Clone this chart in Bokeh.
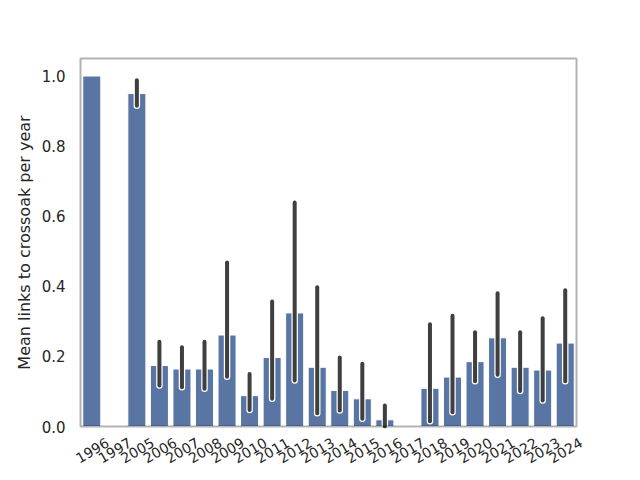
import math
from bokeh.plotting import figure
from bokeh.models import (Range1d, ColumnDataSource, PrintfTickFormatter, FixedTicker,
                          LinearAxis, BoxAnnotation)
from bokeh.embed import file_html
from bokeh.resources import INLINE

years = ["1996", "1997", "2005", "2006", "2007", "2008", "2009", "2010", "2011", "2012",
         "2013", "2014", "2015", "2016", "2017", "2018", "2019", "2020", "2021", "2022",
         "2023", "2024"]
mean_links = [1.0, 0.0, 0.95, 0.174, 0.164, 0.164, 0.261, 0.088, 0.197, 0.324,
              0.169, 0.103, 0.079, 0.019, 0.0, 0.109, 0.141, 0.185, 0.253, 0.169,
              0.161, 0.238]
ci_low = [None, None, 0.915, 0.117, 0.112, 0.108, 0.142, 0.047, 0.079, 0.131,
          0.038, 0.046, 0.022, 0.0, None, 0.015, 0.041, 0.129, 0.148, 0.101,
          0.074, 0.129]
ci_high = [None, None, 0.988, 0.242, 0.226, 0.242, 0.468, 0.150, 0.357, 0.639,
           0.397, 0.197, 0.179, 0.060, None, 0.292, 0.316, 0.269, 0.380, 0.269,
           0.309, 0.389]
y_ticks = [0.0, 0.2, 0.4, 0.6, 0.8, 1.0]

n = len(years)
bar_idx = [i for i, v in enumerate(mean_links) if v > 0]
bar_src = ColumnDataSource(dict(x=bar_idx, mean=[mean_links[i] for i in bar_idx]))
err_idx = [i for i in range(n) if ci_low[i] is not None]
err_src = ColumnDataSource(dict(x=err_idx,
                                lo=[ci_low[i] for i in err_idx],
                                hi=[ci_high[i] for i in err_idx]))

# layout geometry: axes box spans x 80..576 and y 58..426 px; the plotting
# frame is a little larger so the rotated year labels and the box edges fit
W, H = 640, 480
BOX_L, BOX_R, BOX_T, BOX_B = 80, 576, 58, 426
PAD_X, PAD_Y = 24, 2
Y_TOP = 1.05
unit_x = (BOX_R - BOX_L) / n
unit_y = (BOX_B - BOX_T) / Y_TOP
x_start = -0.5 - PAD_X / unit_x
x_end = n - 0.5 + PAD_X / unit_x
y_start = -PAD_Y / unit_y
y_end = Y_TOP + PAD_Y / unit_y

p = figure(width=W, height=H, x_range=Range1d(x_start, x_end),
           y_range=Range1d(y_start, y_end),
           output_backend="svg", toolbar_location=None, x_axis_location=None,
           min_border_left=BOX_L - PAD_X, min_border_right=W - BOX_R - PAD_X,
           min_border_top=BOX_T - PAD_Y, min_border_bottom=H - BOX_B - PAD_Y)

p.vbar(x="x", top="mean", width=0.8, source=bar_src, fill_color="#5875a4",
       line_color="white", line_width=1)

p.segment(x0="x", y0="lo", x1="x", y1="hi", source=err_src, line_color="white",
          line_width=6.5, line_cap="round")
p.segment(x0="x", y0="lo", x1="x", y1="hi", source=err_src, line_color="#3f3f3f",
          line_width=4, line_cap="round")

p.add_layout(BoxAnnotation(left=-0.5, right=n - 0.5, bottom=0, top=Y_TOP,
                           fill_color=None, line_color="black", line_width=2))

p.xgrid.visible = False
p.ygrid.visible = False
p.outline_line_color = None
p.background_fill_color = "white"
p.border_fill_color = "white"

# rotated year labels, centred under each bar like matplotlib's rotation=30
shift = 0.71
p.extra_x_ranges = {"lab": Range1d(x_start - shift, x_end - shift)}
xlab = LinearAxis(x_range_name="lab",
                  ticker=FixedTicker(ticks=list(range(n))),
                  major_label_overrides={i: y for i, y in enumerate(years)})
xlab.axis_line_color = None
xlab.major_tick_line_color = None
xlab.minor_tick_line_color = None
xlab.major_tick_out = 0
xlab.major_tick_in = 0
xlab.major_label_orientation = math.radians(30)
xlab.major_label_standoff = 13
xlab.major_label_text_font = "DejaVu Sans"
xlab.major_label_text_font_size = "14px"
xlab.major_label_text_color = "#262626"
p.add_layout(xlab, "below")

ax = p.yaxis[0]
ax.axis_line_color = None
ax.major_tick_line_color = None
ax.minor_tick_line_color = None
ax.major_tick_out = 0
ax.major_tick_in = 0
ax.major_label_text_font = "DejaVu Sans"
ax.major_label_text_font_size = "15px"
ax.major_label_text_color = "#262626"
ax.major_label_standoff = 15 - PAD_X
ax.ticker = FixedTicker(ticks=y_ticks)
ax.formatter = PrintfTickFormatter(format="%.1f")
ax.axis_label = "Mean links to crossoak per year"
ax.axis_label_text_font = "DejaVu Sans"
ax.axis_label_text_font_size = "16px"
ax.axis_label_text_font_style = "normal"
ax.axis_label_text_color = "#262626"
ax.axis_label_standoff = 5

open("out.html", "w").write(file_html(p, INLINE))
